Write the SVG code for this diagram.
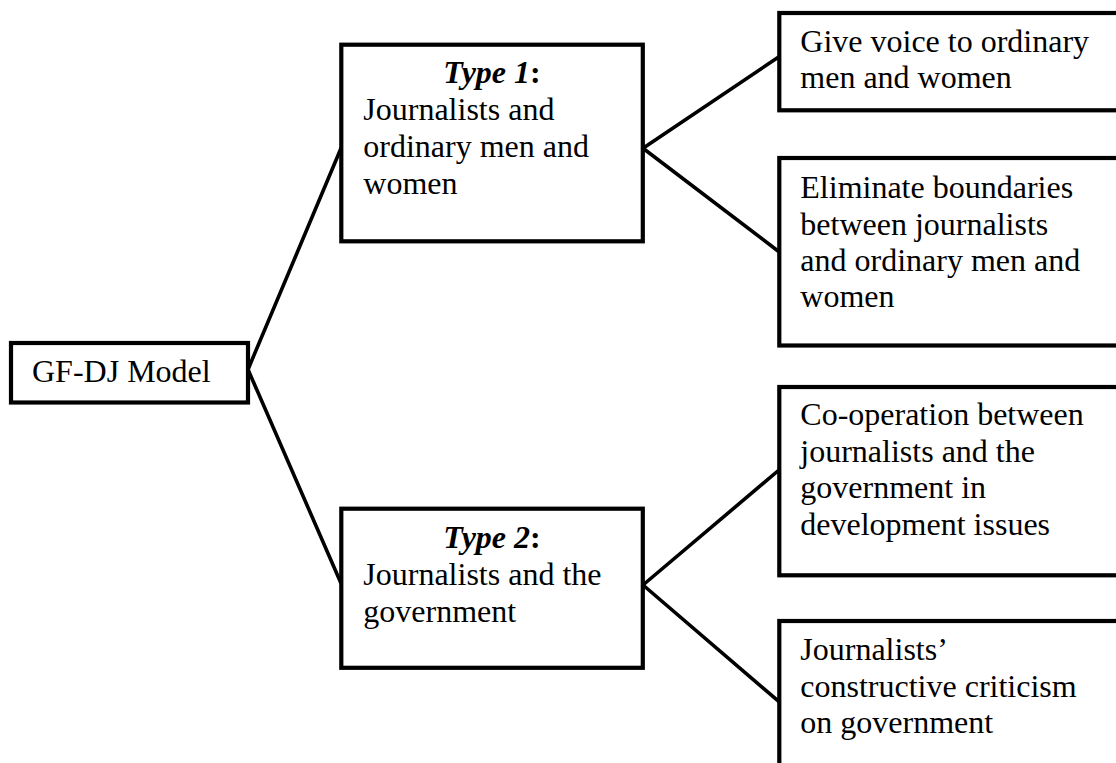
<svg xmlns="http://www.w3.org/2000/svg" width="1116" height="763" viewBox="0 0 1116 763">
<style>
.box{fill:#fff;stroke:#000;stroke-width:4.2}
.conn line{stroke:#000;stroke-width:3.6;stroke-linecap:round}
text{font-family:"Liberation Serif","Times New Roman",serif;font-size:32px;fill:#000}
.h{font-weight:bold;text-anchor:middle}
.i{font-style:italic}
</style>
<rect width="1116" height="763" fill="#fff"/>
<g class="conn" id="connectors">
<line x1="248" y1="369.5" x2="341" y2="148.3"/>
<line x1="248" y1="369.5" x2="341" y2="583.3"/>
<line x1="643" y1="148.3" x2="779" y2="56.7"/>
<line x1="643" y1="148.3" x2="779" y2="251.7"/>
<line x1="643" y1="585" x2="779" y2="470"/>
<line x1="643" y1="585" x2="779" y2="701.7"/>
</g>
<g id="gfdj">
<rect class="box" x="11" y="343" width="237" height="59.5"/>
<text x="32" y="381.7">GF-DJ Model</text>
</g>
<g id="type1">
<rect class="box" x="341.3" y="44.7" width="301.5" height="196.6"/>
<text class="h" x="492" y="83"><tspan class="i">Type 1</tspan>:</text>
<text x="363.3" y="120.3">Journalists and</text>
<text x="363.3" y="157.3">ordinary men and</text>
<text x="363.3" y="194.3">women</text>
</g>
<g id="type2">
<rect class="box" x="341.3" y="508.7" width="301.5" height="159.1"/>
<text class="h" x="492" y="548.3"><tspan class="i">Type 2</tspan>:</text>
<text x="363.3" y="585">Journalists and the</text>
<text x="363.3" y="621.7">government</text>
</g>
<g id="voice">
<rect class="box" x="779.3" y="13" width="400" height="97.3"/>
<text x="800.3" y="51.7">Give voice to ordinary</text>
<text x="800.3" y="87.8">men and women</text>
</g>
<g id="boundaries">
<rect class="box" x="779.3" y="158" width="400" height="187.5"/>
<text x="800.3" y="198.3">Eliminate boundaries</text>
<text x="800.3" y="235">between journalists</text>
<text x="800.3" y="271">and ordinary men and</text>
<text x="800.3" y="307">women</text>
</g>
<g id="cooperation">
<rect class="box" x="779.3" y="387" width="400" height="188.3"/>
<text x="800.3" y="425">Co-operation between</text>
<text x="800.3" y="461.7">journalists and the</text>
<text x="800.3" y="498.3">government in</text>
<text x="800.3" y="535">development issues</text>
</g>
<g id="criticism">
<rect class="box" x="779.3" y="621" width="400" height="200"/>
<text x="800.3" y="660">Journalists’</text>
<text x="800.3" y="696.7">constructive criticism</text>
<text x="800.3" y="733.3">on government</text>
</g>
</svg>
